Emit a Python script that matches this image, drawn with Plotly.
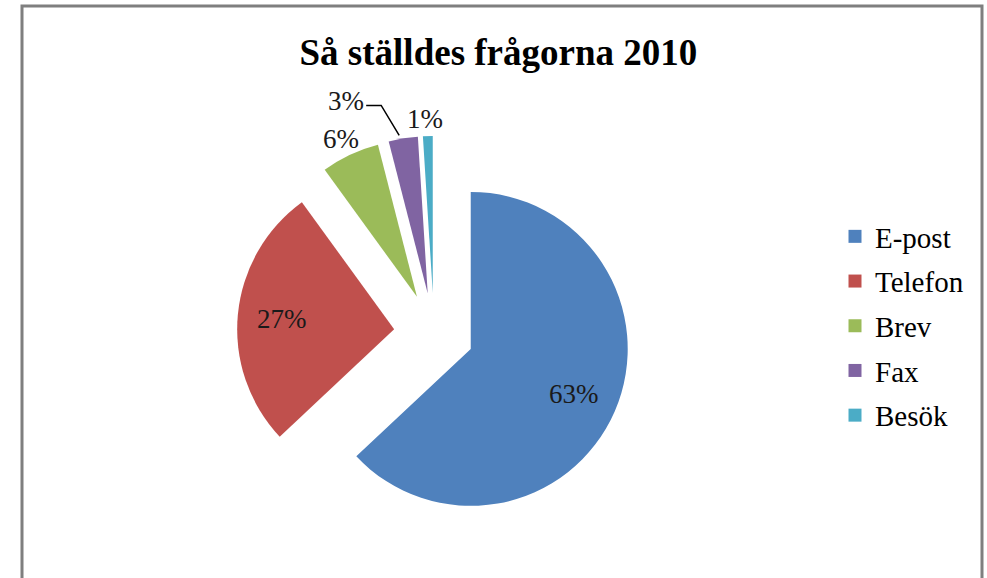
import math
import plotly.graph_objects as go

categories = ["E-post", "Telefon", "Brev", "Fax", "Besök"]
values = [63, 27, 6, 3, 1]
colors = ["#4F81BD", "#C0504D", "#9BBB59", "#8064A2", "#4BACC6"]
title_text = "Så ställdes frågorna 2010"

W, H = 987, 578
cx, cy = 434, 333          # pie centre in pixels (from top)
half = 197                 # half size of pie domain in pixels
pull = 0.255
R = half / (1 + pull)      # pie radius in pixels
SERIF = "Liberation Serif, Times New Roman, DejaVu Serif, serif"


def px2paper(x, y):
    return x / W, 1 - y / H


fig = go.Figure()
fig.add_trace(go.Pie(
    labels=categories,
    values=values,
    marker=dict(colors=colors, line=dict(width=0)),
    sort=False,
    direction="clockwise",
    rotation=0,
    pull=[pull] * len(values),
    textinfo="none",
    domain=dict(x=[(cx - half) / W, (cx + half) / W],
                y=[1 - (cy + half) / H, 1 - (cy - half) / H]),
    hoverinfo="label+percent",
    showlegend=False,
))

# legend proxies (one group each so that the gap between entries can be set)
for cat, col in zip(categories, colors):
    fig.add_trace(go.Scatter(x=[None], y=[None], mode="markers", name=cat,
                             legendgroup=cat,
                             marker=dict(symbol="square", size=13, color=col)))

# data labels placed from the slice angles
total = sum(values)
label_kind = ["in", "in", "out", "leader", "out"]
annotations = []
shapes = []
cum = 0
for v, kind in zip(values, label_kind):
    mid = (cum + v / 2) / total * 2 * math.pi   # clockwise from 12 o'clock
    cum += v
    ux, uy = math.sin(mid), -math.cos(mid)
    ox, oy = cx + pull * R * ux, cy + pull * R * uy   # pulled slice apex
    txt = f"{v}%"
    if kind == "in":
        px, py = ox + 0.72 * R * ux, oy + 0.72 * R * uy
    elif kind == "out":
        px, py = ox + 1.11 * R * ux, oy + 1.11 * R * uy
        px -= 2
    else:
        ex, ey = ox + 1.0 * R * ux, oy + 1.0 * R * uy   # outer edge of slice
        ex, ey = ex - 4, ey - 3
        kx, ky = ex - 18, ey - 30                       # elbow
        lx, ly = kx - 15, ky
        px, py = lx - 20, ly - 4
        p = [px2paper(ex, ey), px2paper(kx, ky), px2paper(lx, ly)]
        shapes.append(dict(type="path", xref="paper", yref="paper",
                           path="M {} {} L {} {} L {} {}".format(
                               p[0][0], p[0][1], p[1][0], p[1][1], p[2][0], p[2][1]),
                           line=dict(color="black", width=1.5)))
    ax_, ay_ = px2paper(px, py)
    annotations.append(dict(x=ax_, y=ay_, xref="paper", yref="paper",
                            xanchor="center", yanchor="middle",
                            text=txt, showarrow=False,
                            font=dict(family=SERIF, size=27, color="#1a1a1a")))

shapes.append(dict(type="rect", xref="paper", yref="paper",
                   x0=22 / W, x1=982 / W, y0=-0.05, y1=1 - 6 / H,
                   line=dict(color="#7f7f7f", width=3), fillcolor="rgba(0,0,0,0)"))

fig.update_layout(
    width=W, height=H,
    margin=dict(l=0, r=0, t=0, b=0),
    paper_bgcolor="white",
    plot_bgcolor="white",
    xaxis=dict(visible=False),
    yaxis=dict(visible=False),
    title=dict(text="<b>" + title_text + "</b>", x=0.505, xanchor="center",
               y=1 - 52 / H, yanchor="middle",
               font=dict(family=SERIF, size=37, color="black")),
    legend=dict(x=835 / W, xanchor="left", y=1 - 211 / H, yanchor="top",
                font=dict(family=SERIF, size=29, color="black"),
                tracegroupgap=4,
                bgcolor="rgba(0,0,0,0)"),
    annotations=annotations,
    shapes=shapes,
)

fig.write_html("out.html", config={"displayModeBar": False},
               post_script="document.body.style.margin='0';")
